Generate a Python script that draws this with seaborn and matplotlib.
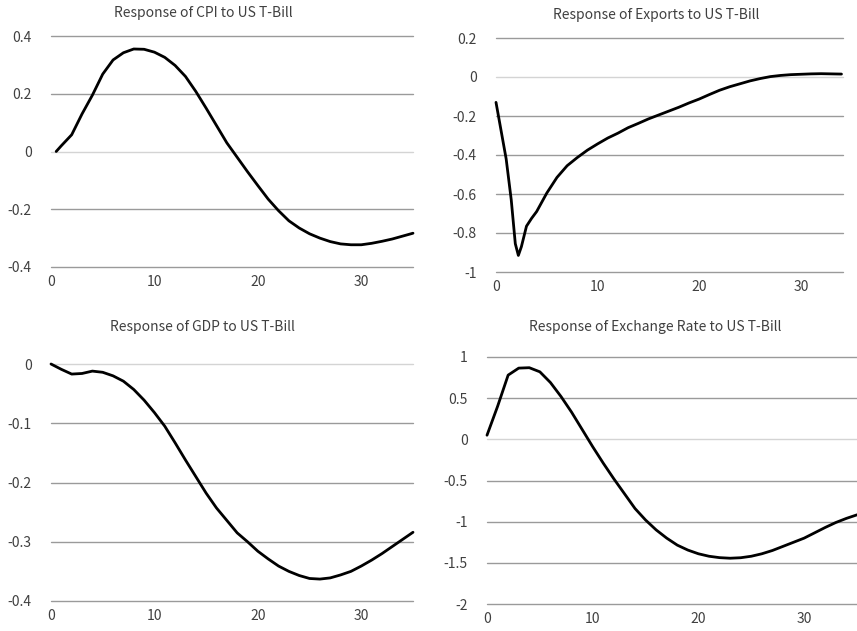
import matplotlib
matplotlib.use("Agg")
import matplotlib.pyplot as plt
import seaborn as sns
import pandas as pd

# Impulse responses to a US T-Bill shock
cpi_period = [0.5, 1, 2, 3, 4, 5, 6, 7, 8, 9, 10, 11, 12, 13, 14, 15, 16, 17, 18,
              19, 20, 21, 22, 23, 24, 25, 26, 27, 28, 29, 30, 31, 32, 33, 34, 35]
cpi_resp = [0.0, 0.02, 0.058, 0.13, 0.195, 0.268, 0.317, 0.342, 0.355, 0.354, 0.344,
            0.326, 0.298, 0.26, 0.208, 0.15, 0.09, 0.03, -0.02, -0.07, -0.118, -0.165,
            -0.205, -0.24, -0.265, -0.285, -0.30, -0.312, -0.32, -0.323, -0.323, -0.318,
            -0.311, -0.303, -0.293, -0.283]

exp_period = [0, 1, 1.5, 1.9, 2.2, 2.5, 3, 3.5, 4, 5, 6, 7, 8, 9, 10, 11, 12, 13, 14,
              15, 16, 17, 18, 19, 20, 21, 22, 23, 24, 25, 26, 27, 28, 29, 30, 31, 32,
              33, 34]
exp_resp = [-0.13, -0.42, -0.63, -0.855, -0.915, -0.87, -0.765, -0.725, -0.69, -0.595,
            -0.515, -0.455, -0.413, -0.375, -0.343, -0.313, -0.288, -0.26, -0.238,
            -0.215, -0.195, -0.175, -0.155, -0.133, -0.113, -0.09, -0.068, -0.05, -0.035,
            -0.02, -0.008, 0.002, 0.008, 0.012, 0.014, 0.016, 0.017, 0.016, 0.015]

gdp_period = list(range(0, 36))
gdp_resp = [0.0, -0.009, -0.017, -0.016, -0.012, -0.014, -0.02, -0.029, -0.043, -0.061,
            -0.082, -0.105, -0.133, -0.162, -0.19, -0.218, -0.243, -0.264, -0.285, -0.30,
            -0.316, -0.329, -0.341, -0.35, -0.357, -0.362, -0.363, -0.361, -0.356, -0.35,
            -0.341, -0.331, -0.32, -0.308, -0.296, -0.284]

fx_period = list(range(0, 36))
fx_resp = [0.05, 0.40, 0.78, 0.865, 0.87, 0.82, 0.69, 0.52, 0.33, 0.12, -0.09, -0.29,
           -0.48, -0.66, -0.84, -0.98, -1.10, -1.20, -1.285, -1.345, -1.39, -1.42, -1.437,
           -1.444, -1.438, -1.42, -1.39, -1.35, -1.30, -1.25, -1.20, -1.135, -1.07, -1.01,
           -0.96, -0.917]

titles = ["Response of CPI to US T-Bill", "Response of Exports to US T-Bill",
          "Response of GDP to US T-Bill", "Response of Exchange Rate to US T-Bill"]
yticks = [[-0.4, -0.2, 0, 0.2, 0.4],
          [-1, -0.8, -0.6, -0.4, -0.2, 0, 0.2],
          [-0.4, -0.3, -0.2, -0.1, 0],
          [-2, -1.5, -1, -0.5, 0, 0.5, 1]]
ytick_labels = [["-0.4", "-0.2", "0", "0.2", "0.4"],
                ["-1", "-0.8", "-0.6", "-0.4", "-0.2", "0", "0.2"],
                ["-0.4", "-0.3", "-0.2", "-0.1", "0"],
                ["-2", "-1.5", "-1", "-0.5", "0", "0.5", "1"]]
xticks = [0, 10, 20, 30]

sns.set_style("white")
plt.rcParams["font.family"] = ["Noto Sans CJK JP", "DejaVu Sans"]

W, H = 857, 631
fig = plt.figure(figsize=(W / 100, H / 100), dpi=100)

# axes boxes in pixels: left, right, top, bottom
boxes = [(51, 413, 36, 267), (496, 843, 38, 272), (51, 413, 364, 601), (487, 857, 357, 604)]
xmax = [35, 34.15, 35, 35]
title_pos = [(203, 13), (656, 15), (202, 327), (655, 327)]
series = [(cpi_period, cpi_resp), (exp_period, exp_resp),
          (gdp_period, gdp_resp), (fx_period, fx_resp)]

text_col = "#404040"
for i in range(4):
    l, r, t, b = boxes[i]
    ax = fig.add_axes([l / W, 1 - b / H, (r - l) / W, (b - t) / H])
    df = pd.DataFrame({"period": series[i][0], "response": series[i][1]})
    for yv in yticks[i]:
        col = "#d4d4d4" if yv == 0 else "#9a9a9a"
        ax.axhline(yv, color=col, lw=1.0, zorder=1)
    sns.lineplot(data=df, x="period", y="response", ax=ax, color="black", lw=2.0,
                 zorder=3, sort=False)
    ax.set_xlim(0, xmax[i])
    ax.set_ylim(yticks[i][0], yticks[i][-1])
    ax.set_yticks(yticks[i])
    ax.set_yticklabels(ytick_labels[i])
    ax.set_xticks(xticks)
    ax.set_xticklabels([str(v) for v in xticks])
    ax.tick_params(axis="both", length=0, labelsize=10, colors=text_col)
    ax.tick_params(axis="y", pad=14)
    ax.tick_params(axis="x", pad=6)
    ax.set_xlabel("")
    ax.set_ylabel("")
    for s in ax.spines.values():
        s.set_visible(False)
    ax.patch.set_alpha(0)
    for ln in ax.lines:
        ln.set_clip_on(False)
        ln.set_solid_joinstyle("round")
    tx, ty = title_pos[i]
    fig.text(tx / W, 1 - ty / H, titles[i], ha="center", va="center",
             fontsize=10, color=text_col)

fig.savefig("out.png", dpi=100)
